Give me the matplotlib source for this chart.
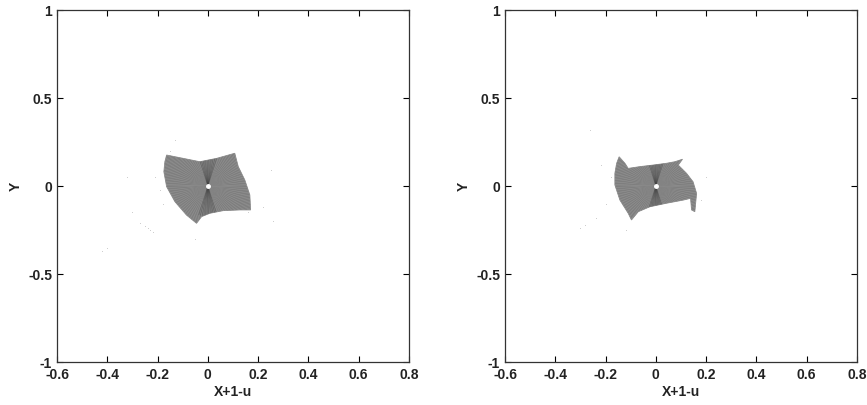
import numpy as np
import matplotlib.pyplot as plt
from matplotlib.patches import Polygon

plt.rcParams['font.family'] = ['Liberation Sans', 'DejaVu Sans']

x_ticks = [-0.6, -0.4, -0.2, 0, 0.2, 0.4, 0.6, 0.8]
x_labels = ['-0.6', '-0.4', '-0.2', '0', '0.2', '0.4', '0.6', '0.8']
y_ticks = [-1, -0.5, 0, 0.5, 1]
y_labels = ['-1', '-0.5', '0', '0.5', '1']

# outline of the gray fan region (left panel)
left_x = [-0.164, -0.098, -0.032, 0.035, 0.107, 0.121, 0.147, 0.167,
          0.170, 0.127, 0.061, 0.008, -0.025, -0.045, -0.085, -0.131,
          -0.164, -0.175, -0.171]
left_y = [0.176, 0.157, 0.138, 0.157, 0.186, 0.110, 0.034, -0.051,
          -0.136, -0.136, -0.140, -0.155, -0.174, -0.212, -0.165, -0.089,
          -0.004, 0.081, 0.138]

# outline of the gray fan region (right panel)
right_x = [-0.146, -0.123, -0.110, -0.064, -0.011, 0.042, 0.076, 0.106,
           0.089, 0.122, 0.148, 0.162, 0.155, 0.142, 0.138, 0.109, 0.042,
           -0.024, -0.070, -0.097, -0.110, -0.143, -0.163, -0.163, -0.156]
right_y = [0.166, 0.129, 0.100, 0.110, 0.119, 0.129, 0.138, 0.152,
           0.119, 0.072, 0.024, -0.042, -0.146, -0.136, -0.070, -0.080, -0.098,
           -0.118, -0.146, -0.193, -0.155, -0.080, 0.006, 0.072, 0.129]

# faint scattered points
left_dx = [-0.42, -0.40, -0.27, -0.25, -0.24, -0.23, -0.22, -0.30, -0.15, -0.14,
           -0.13, -0.21, -0.19, 0.22, 0.26, 0.25, -0.05, 0.16, -0.18, -0.32]
left_dy = [-0.37, -0.35, -0.21, -0.23, -0.24, -0.25, -0.26, -0.15, 0.20, 0.12,
           0.26, 0.05, -0.02, -0.12, -0.20, 0.09, -0.30, -0.15, -0.10, 0.05]
right_dx = [-0.30, -0.28, -0.26, -0.20, -0.18, 0.18, -0.24, -0.12, 0.20, -0.22]
right_dy = [-0.24, -0.22, 0.32, -0.10, 0.05, -0.08, -0.18, -0.25, 0.05, 0.12]


def draw_panel(ax, bx, by, dx, dy):
    poly = Polygon(np.column_stack([bx, by]), closed=True,
                   facecolor='#848484', edgecolor='#8e8e8e', lw=0.6, zorder=2)
    ax.add_patch(poly)
    # radial texture of the fan
    ang = np.linspace(0, 2 * np.pi, 180, endpoint=False)
    for i, a in enumerate(ang):
        c = '#909090' if i % 2 else '#7a7a7a'
        ln, = ax.plot([0, 0.4 * np.cos(a)], [0, 0.56 * np.sin(a)],
                      color=c, lw=0.4, zorder=3)
        ln.set_clip_path(poly)
    # darker narrow wedges above and below the centre
    for a in np.linspace(np.pi / 2 - 0.3, np.pi / 2 + 0.3, 12):
        for s in (1, -1):
            ln, = ax.plot([0, 0.12 * np.cos(a)], [0, s * 0.17 * np.sin(a)],
                          color='#3a3a3a', lw=0.6, alpha=0.35, zorder=3)
            ln.set_clip_path(poly)
    ax.plot(0, 0, 'o', ms=2.5, color='white', zorder=4)
    ax.scatter(dx, dy, s=0.5, color='#cccccc', lw=0, zorder=1)

    ax.set_xlim(-0.6, 0.8)
    ax.set_ylim(-1, 1)
    ax.set_xticks(x_ticks)
    ax.set_xticklabels(x_labels)
    ax.set_yticks(y_ticks)
    ax.set_yticklabels(y_labels)
    ax.tick_params(direction='in', top=True, right=True, length=4,
                   labelsize=10, width=0.8)
    ax.tick_params(axis='x', pad=4.5)
    for lab in ax.get_xticklabels() + ax.get_yticklabels():
        lab.set_fontweight('bold')
        lab.set_color('#222222')
    ax.set_xlabel('X+1-u', fontsize=10, fontweight='bold', color='#222222', labelpad=2)
    ax.set_ylabel('Y', fontsize=10, fontweight='bold', color='#222222', labelpad=4)
    for sp in ax.spines.values():
        sp.set_linewidth(0.9)
        sp.set_color('#333333')


fig = plt.figure(figsize=(8.67, 4.05), dpi=100)
ax1 = fig.add_axes([57 / 867, 1 - 362 / 405, 352 / 867, 352 / 405])
ax2 = fig.add_axes([505 / 867, 1 - 362 / 405, 352 / 867, 352 / 405])

draw_panel(ax1, left_x, left_y, left_dx, left_dy)
draw_panel(ax2, right_x, right_y, right_dx, right_dy)

fig.savefig('out.png', dpi=100)
